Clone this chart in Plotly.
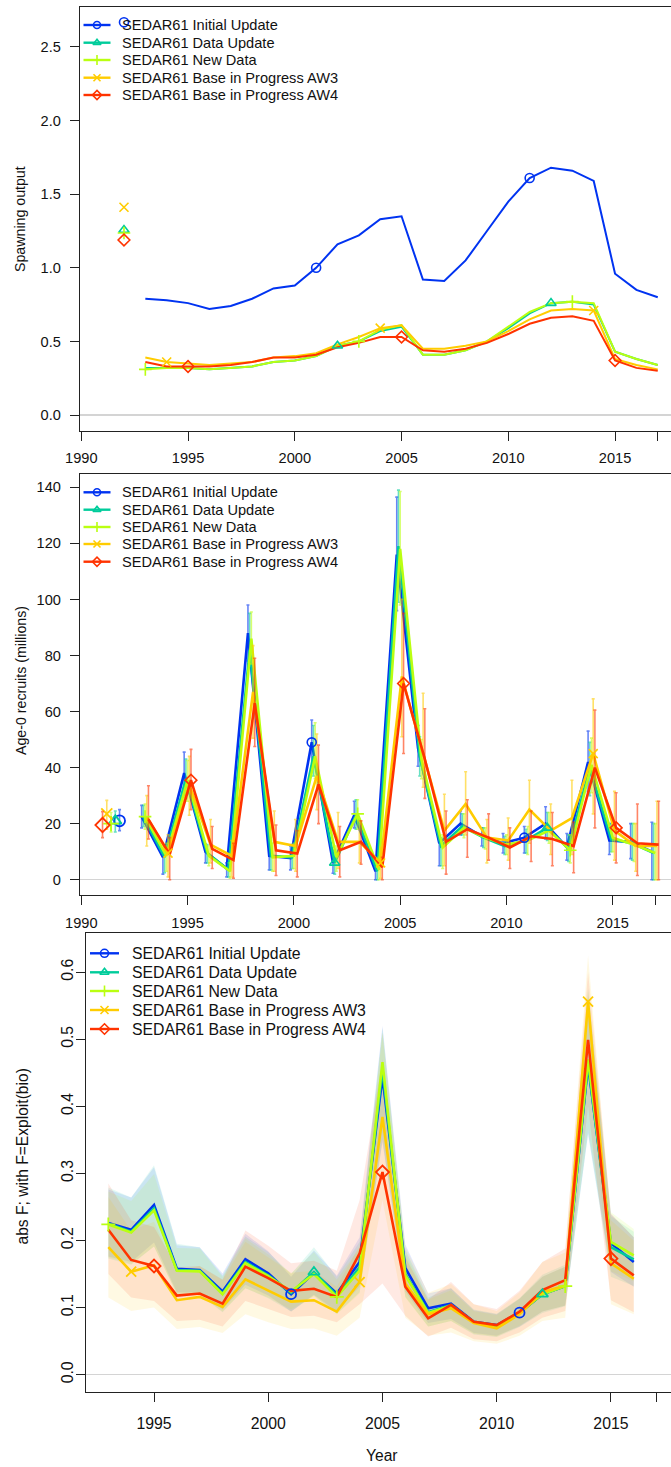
import plotly.graph_objects as go

W, H = 671, 1467
FONT = "Liberation Sans, Arial, sans-serif"

# ---------------- data ----------------
names = ["SEDAR61 Initial Update", "SEDAR61 Data Update", "SEDAR61 New Data",
         "SEDAR61 Base in Progress AW3", "SEDAR61 Base in Progress AW4"]
colors_rgb = [(0, 51, 241), (0, 204, 155), (186, 255, 17), (255, 204, 0), (255, 51, 0)]
symbols = ["circle-open", "triangle-up-open", "cross-thin-open", "x-thin-open", "diamond-open"]

years = list(range(1993, 2018))      # spawning output & recruitment
years_f = list(range(1993, 2017))    # fishing mortality

# Panel 1: spawning output
sp_virgin_year = 1992
sp_virgin = [2.668, 1.257, 1.236, 1.411, 1.189]
sp = [
    [0.79, 0.78, 0.76, 0.72, 0.74, 0.79, 0.86, 0.88, 1.00, 1.16, 1.22, 1.33, 1.35, 0.92, 0.91, 1.05, 1.25, 1.45, 1.61, 1.68, 1.66, 1.59, 0.96, 0.85, 0.80],
    [0.32, 0.32, 0.32, 0.31, 0.32, 0.33, 0.36, 0.37, 0.40, 0.47, 0.50, 0.57, 0.60, 0.41, 0.41, 0.44, 0.50, 0.59, 0.69, 0.76, 0.77, 0.75, 0.43, 0.38, 0.34],
    [0.31, 0.32, 0.32, 0.31, 0.32, 0.33, 0.36, 0.37, 0.40, 0.47, 0.50, 0.58, 0.61, 0.41, 0.41, 0.44, 0.50, 0.60, 0.70, 0.76, 0.77, 0.76, 0.43, 0.38, 0.34],
    [0.39, 0.36, 0.35, 0.34, 0.35, 0.36, 0.39, 0.40, 0.42, 0.48, 0.53, 0.59, 0.61, 0.45, 0.45, 0.47, 0.50, 0.57, 0.65, 0.71, 0.72, 0.71, 0.38, 0.34, 0.31],
    [0.36, 0.33, 0.33, 0.33, 0.34, 0.36, 0.39, 0.39, 0.41, 0.46, 0.49, 0.53, 0.53, 0.44, 0.43, 0.45, 0.49, 0.55, 0.62, 0.66, 0.67, 0.64, 0.37, 0.32, 0.30],
]

# Panel 2: age-0 recruits (millions) with intervals
rec_virgin_x = [1991.8, 1991.6, 1991.4, 1991.2, 1991.0]
rec_virgin = [21.0, 21.0, 20.0, 23.5, 19.5]
rec_virgin_lo = [17.5, 17.0, 17.0, 18.0, 15.0]
rec_virgin_hi = [25.0, 24.5, 24.0, 28.3, 24.3]
rec_shift = [-0.16, -0.08, 0.0, 0.08, 0.16]
rec = [
    [22.5, 8, 38, 10, 4, 88, 8.5, 7.7, 49, 6, 23, 3, 116, 47, 13, 20, 15.5, 13, 15, 20, 11.5, 42, 14, 13.5, 10],
    [22.5, 8, 36, 9.5, 3.5, 82, 8.5, 8, 44, 6, 23, 3, 119, 44, 12, 19, 15, 12, 14, 18.5, 11, 40, 14.5, 13, 9.5],
    [22.5, 8.5, 35.5, 8.5, 3, 86, 8, 8.5, 44, 8, 23.5, 3.5, 118, 43, 11.5, 18.5, 15, 12.5, 14, 17.5, 10.5, 41, 15, 12.5, 9.5],
    [22.5, 9.5, 34, 12.5, 8.5, 67, 13.5, 12, 37, 13.5, 13.5, 6, 72.5, 45, 17.5, 27, 15, 14, 25, 17.5, 22, 45, 17.5, 12, 12],
    [21.5, 9, 35.5, 11, 7, 63, 10.5, 9.3, 34, 10.5, 13.5, 4.5, 70, 43, 13.5, 18, 15, 11.5, 15.5, 14.5, 12, 40, 18.5, 13, 12.5],
]
rec_lo = [
    [18.5, 2, 30, 6, 1, 78, 3.5, 3.5, 40.5, 2.3, 18.5, 0, 96, 40.5, 5, 16, 12, 9.5, 9.5, 14.5, 7, 31.5, 9, 7.5, 0],
    [19, 2.5, 29, 6, 1, 77, 3.5, 4, 37, 2, 18, 0, 99, 37, 5, 16, 11.5, 9, 9.5, 14, 6.5, 30, 10, 7, 0],
    [18, 3, 28, 5, 0.5, 77, 3, 4, 36, 3, 18, 0, 98, 36, 4, 15, 11, 9, 9, 13, 6, 31, 10, 6.5, 0],
    [12, 1, 23, 6, 1, 50.5, 3, 3, 25, 4, 6, 0.5, 51, 33, 5, 16, 6, 7, 13, 9, 9, 23.5, 7, 3, 0],
    [14.5, 0, 25, 4, 0.5, 47.5, 1.5, 1, 20, 1, 5.5, 0, 45, 29, 2, 8, 7, 4, 6.5, 5, 2.5, 18.5, 6, 1.5, 0],
]
rec_hi = [
    [26.5, 9.5, 45.5, 12.7, 6, 98, 13.5, 12, 57, 10.5, 28, 7, 136.5, 55, 15, 24.5, 18.5, 16.5, 19, 26, 16.5, 53, 20, 20, 20.5],
    [26.5, 12, 43, 12.5, 6, 95, 13, 12.5, 55, 10.5, 28.5, 7, 139, 51, 15, 23.5, 18.5, 15.5, 18, 24, 16, 49, 20, 20, 20],
    [27, 13, 42.5, 12, 6, 95.5, 13, 13, 56, 12, 28.5, 8, 138.5, 50, 16, 23.5, 18.5, 16, 19, 24, 16, 50.5, 21, 20, 20],
    [30, 16, 44, 21.5, 14, 83.5, 24.5, 21.5, 52, 24, 21, 11.5, 100, 66.5, 30.5, 38.5, 21.5, 22, 35.5, 27, 35.5, 64.5, 31.5, 20, 28],
    [33.5, 15, 46.5, 19, 13, 79, 19.5, 17.5, 48, 19, 21, 8, 95, 61, 24.5, 28.5, 23.5, 18.5, 24.5, 24, 20.5, 60.5, 31, 27, 28],
]

# Panel 3: abs F with intervals
fm = [
    [0.226, 0.216, 0.253, 0.158, 0.156, 0.124, 0.172, 0.151, 0.120, 0.152, 0.121, 0.168, 0.444, 0.159, 0.099, 0.106, 0.079, 0.074, 0.0925, 0.120, 0.132, 0.462, 0.196, 0.168],
    [0.225, 0.213, 0.248, 0.156, 0.155, 0.121, 0.168, 0.148, 0.122, 0.153, 0.118, 0.160, 0.455, 0.150, 0.093, 0.104, 0.078, 0.073, 0.092, 0.120, 0.132, 0.465, 0.190, 0.172],
    [0.224, 0.212, 0.245, 0.155, 0.154, 0.120, 0.166, 0.147, 0.124, 0.150, 0.116, 0.155, 0.466, 0.148, 0.092, 0.103, 0.078, 0.073, 0.093, 0.120, 0.132, 0.470, 0.198, 0.178],
    [0.190, 0.1535, 0.163, 0.111, 0.116, 0.101, 0.142, 0.125, 0.109, 0.111, 0.094, 0.138, 0.384, 0.136, 0.090, 0.099, 0.077, 0.069, 0.090, 0.123, 0.133, 0.556, 0.166, 0.143],
    [0.216, 0.171, 0.162, 0.118, 0.121, 0.106, 0.161, 0.144, 0.125, 0.128, 0.116, 0.181, 0.302, 0.131, 0.084, 0.104, 0.079, 0.074, 0.094, 0.126, 0.141, 0.499, 0.173, 0.148],
]
fm_lo = [
    [0.176, 0.168, 0.197, 0.123, 0.122, 0.097, 0.134, 0.118, 0.094, 0.119, 0.094, 0.131, 0.346, 0.124, 0.077, 0.083, 0.062, 0.058, 0.072, 0.094, 0.103, 0.360, 0.153, 0.131],
    [0.173, 0.164, 0.191, 0.120, 0.119, 0.093, 0.129, 0.114, 0.094, 0.118, 0.091, 0.123, 0.350, 0.116, 0.072, 0.080, 0.060, 0.056, 0.071, 0.092, 0.102, 0.358, 0.146, 0.132],
    [0.175, 0.165, 0.191, 0.121, 0.120, 0.094, 0.129, 0.115, 0.097, 0.117, 0.090, 0.121, 0.363, 0.115, 0.072, 0.080, 0.061, 0.057, 0.073, 0.094, 0.103, 0.367, 0.154, 0.139],
    [0.115, 0.095, 0.100, 0.068, 0.071, 0.062, 0.090, 0.078, 0.068, 0.069, 0.058, 0.085, 0.260, 0.085, 0.058, 0.063, 0.050, 0.046, 0.058, 0.080, 0.085, 0.490, 0.105, 0.090],
    [0.150, 0.115, 0.110, 0.080, 0.082, 0.072, 0.110, 0.098, 0.086, 0.088, 0.078, 0.105, 0.136, 0.088, 0.057, 0.070, 0.053, 0.050, 0.063, 0.085, 0.095, 0.400, 0.111, 0.093],
]
fm_hi = [
    [0.276, 0.264, 0.309, 0.193, 0.190, 0.151, 0.210, 0.184, 0.146, 0.185, 0.148, 0.205, 0.520, 0.194, 0.121, 0.129, 0.096, 0.090, 0.113, 0.146, 0.161, 0.564, 0.239, 0.205],
    [0.279, 0.264, 0.312, 0.195, 0.190, 0.148, 0.206, 0.183, 0.150, 0.190, 0.146, 0.198, 0.517, 0.186, 0.115, 0.129, 0.097, 0.091, 0.114, 0.149, 0.164, 0.576, 0.236, 0.213],
    [0.273, 0.259, 0.299, 0.189, 0.188, 0.146, 0.203, 0.179, 0.151, 0.183, 0.142, 0.189, 0.510, 0.181, 0.112, 0.126, 0.095, 0.089, 0.113, 0.146, 0.161, 0.573, 0.242, 0.217],
    [0.265, 0.215, 0.228, 0.155, 0.162, 0.141, 0.198, 0.175, 0.152, 0.155, 0.131, 0.193, 0.510, 0.190, 0.122, 0.135, 0.105, 0.095, 0.123, 0.168, 0.182, 0.625, 0.230, 0.200],
    [0.285, 0.230, 0.220, 0.160, 0.162, 0.142, 0.215, 0.192, 0.166, 0.170, 0.155, 0.260, 0.470, 0.175, 0.112, 0.138, 0.105, 0.098, 0.125, 0.168, 0.188, 0.600, 0.240, 0.205],
]

# tick labels
x_ticks_top = [1990, 1995, 2000, 2005, 2010, 2015, 2017]
x_ticktext_top = ["1990", "1995", "2000", "2005", "2010", "2015", ""]
x_ticks_bot = [1995, 2000, 2005, 2010, 2015, 2017]
x_ticktext_bot = ["1995", "2000", "2005", "2010", "2015", ""]
y1_ticks = [0.0, 0.5, 1.0, 1.5, 2.0, 2.5]
y2_ticks = [0, 20, 40, 60, 80, 100, 120, 140]
y3_ticks = [0.0, 0.1, 0.2, 0.3, 0.4, 0.5, 0.6]


def rgba(i, a):
    r, g, b = colors_rgb[i]
    return f"rgba({r},{g},{b},{a})"


def marker_pick(i, xs, ys):
    px, py = [], []
    for x, y in zip(xs, ys):
        yr = round(x)
        if (yr - 1991 - i) % 10 == 0:
            px.append(x)
            py.append(y)
    return px, py


fig = go.Figure()

# ---------------- panel 1 ----------------
for i in range(5):
    fig.add_trace(go.Scatter(x=years, y=sp[i], mode="lines", xaxis="x", yaxis="y",
                             line=dict(color=rgba(i, 1), width=2), showlegend=False))
for i in range(5):
    mx, my = marker_pick(i, years, sp[i])
    fig.add_trace(go.Scatter(x=[sp_virgin_year] + mx, y=[sp_virgin[i]] + my, mode="markers",
                             xaxis="x", yaxis="y",
                             marker=dict(symbol=symbols[i], size=9, color=rgba(i, 1),
                                         line=dict(width=1.6, color=rgba(i, 1))),
                             showlegend=False))

# ---------------- panel 2 ----------------
for i in range(5):
    xs = [y + rec_shift[i] for y in years]
    plus = [h - v for h, v in zip(rec_hi[i], rec[i])]
    minus = [v - l for v, l in zip(rec[i], rec_lo[i])]
    fig.add_trace(go.Scatter(x=xs, y=rec[i], mode="lines", xaxis="x2", yaxis="y2",
                             line=dict(color=rgba(i, 1), width=2.6),
                             error_y=dict(type="data", array=plus, arrayminus=minus,
                                          color=rgba(i, 0.6), thickness=1.6, width=1.5),
                             showlegend=False))
for i in range(5):
    xs = [y + rec_shift[i] for y in years]
    mx, my = marker_pick(i, xs, rec[i])
    fig.add_trace(go.Scatter(x=mx, y=my, mode="markers", xaxis="x2", yaxis="y2",
                             marker=dict(symbol=symbols[i], size=9, color=rgba(i, 1),
                                         line=dict(width=1.6, color=rgba(i, 1))),
                             showlegend=False))
    fig.add_trace(go.Scatter(x=[rec_virgin_x[i]], y=[rec_virgin[i]], mode="markers",
                             xaxis="x2", yaxis="y2",
                             marker=dict(symbol=symbols[i], size=11, color=rgba(i, 1),
                                         line=dict(width=1.8, color=rgba(i, 1))),
                             error_y=dict(type="data", array=[rec_virgin_hi[i] - rec_virgin[i]],
                                          arrayminus=[rec_virgin[i] - rec_virgin_lo[i]],
                                          color=rgba(i, 0.6), thickness=1.6, width=1.5),
                             showlegend=False))

# ---------------- panel 3 ----------------
for i in range(5):
    fig.add_trace(go.Scatter(x=years_f + years_f[::-1], y=fm_hi[i] + fm_lo[i][::-1],
                             mode="lines", fill="toself", fillcolor=rgba(i, 0.11),
                             line=dict(width=0, color=rgba(i, 0)), xaxis="x3", yaxis="y3",
                             hoverinfo="skip", showlegend=False))
for i in range(5):
    fig.add_trace(go.Scatter(x=years_f, y=fm[i], mode="lines", xaxis="x3", yaxis="y3",
                             line=dict(color=rgba(i, 1), width=2.6), showlegend=False))
for i in range(5):
    mx, my = marker_pick(i, years_f, fm[i])
    fig.add_trace(go.Scatter(x=mx, y=my, mode="markers", xaxis="x3", yaxis="y3",
                             marker=dict(symbol=symbols[i], size=10, color=rgba(i, 1),
                                         line=dict(width=1.8, color=rgba(i, 1))),
                             showlegend=False))

# ---------------- legends (drawn in pixel space) ----------------
legend_specs = [
    dict(rows=[25, 42.7, 60, 77.7, 95], x0=83.5, x1=110.5, xm=97, xt=120, fs=14.6, ms=7),
    dict(rows=[492.3, 509.7, 527, 544, 561.7], x0=83.5, x1=110.5, xm=97, xt=120, fs=14.6, ms=7),
    dict(rows=[953.3, 972.3, 991, 1010, 1029], x0=90, x1=119, xm=104.5, xt=130, fs=15.8, ms=8),
]
annotations = []
for spec in legend_specs:
    for i in range(5):
        ry = spec["rows"][i]
        fig.add_trace(go.Scatter(x=[spec["x0"], spec["x1"]], y=[ry, ry], mode="lines",
                                 xaxis="x4", yaxis="y4", line=dict(color=rgba(i, 1), width=2.4),
                                 showlegend=False, hoverinfo="skip"))
        fig.add_trace(go.Scatter(x=[spec["xm"]], y=[ry], mode="markers", xaxis="x4", yaxis="y4",
                                 marker=dict(symbol=symbols[i], size=spec["ms"], color=rgba(i, 1),
                                             line=dict(width=1.6, color=rgba(i, 1))),
                                 showlegend=False, hoverinfo="skip"))
        annotations.append(dict(x=spec["xt"], y=ry, xref="x4", yref="y4", text=names[i],
                                showarrow=False, xanchor="left", yanchor="middle",
                                font=dict(family=FONT, size=spec["fs"], color="#111111")))

# axis titles
annotations += [
    dict(x=20, y=219, xref="x4", yref="y4", text="Spawning output", textangle=-90,
         showarrow=False, font=dict(family=FONT, size=14.2, color="#111111")),
    dict(x=21, y=681, xref="x4", yref="y4", text="Age-0 recruits (millions)", textangle=-90,
         showarrow=False, font=dict(family=FONT, size=14.2, color="#111111")),
    dict(x=21.5, y=1157, xref="x4", yref="y4", text="abs F; with F=Exploit(bio)", textangle=-90,
         showarrow=False, font=dict(family=FONT, size=15.6, color="#111111")),
    dict(x=382, y=1455, xref="x4", yref="y4", text="Year",
         showarrow=False, font=dict(family=FONT, size=15.6, color="#111111")),
]


def ydom(top_px, bot_px):
    return [1 - bot_px / H, 1 - top_px / H]


axis_common = dict(showgrid=False, ticks="outside", ticklen=9, tickwidth=1, tickcolor="#222222",
                   showline=True, linecolor="#222222", linewidth=1.2, automargin=False)
tf = dict(family=FONT, size=14.6, color="#111111")
tf3 = dict(family=FONT, size=15.8, color="#111111")

fig.update_layout(
    width=W, height=H, margin=dict(l=0, r=0, t=0, b=0, pad=0, autoexpand=False),
    paper_bgcolor="white", plot_bgcolor="rgba(0,0,0,0)", showlegend=False,
    xaxis=dict(domain=[80 / W, 1], range=[1989.94, 2017.62], anchor="y", tickvals=x_ticks_top,
               ticktext=x_ticktext_top, mirror=True, zeroline=False, tickfont=tf,
               ticklabelstandoff=4, **axis_common),
    yaxis=dict(domain=ydom(7, 431), range=[-0.1087, 2.7717], anchor="x", tickvals=y1_ticks,
               ticktext=["0.0", "0.5", "1.0", "1.5", "2.0", "2.5"], zeroline=True,
               zerolinecolor="#d4d4d4", zerolinewidth=1.2, tickfont=tf, ticklabelstandoff=6,
               **axis_common),
    xaxis2=dict(domain=[80 / W, 1], range=[1989.94, 2017.74], anchor="y2", tickvals=x_ticks_top,
                ticktext=x_ticktext_top, mirror=True, zeroline=False, tickfont=tf,
                ticklabelstandoff=5, **axis_common),
    yaxis2=dict(domain=ydom(474, 895), range=[-5.46, 144.74], anchor="x2", tickvals=y2_ticks,
                zeroline=True, zerolinecolor="#d4d4d4", zerolinewidth=1.2, tickfont=tf,
                ticklabelstandoff=6, **axis_common),
    xaxis3=dict(domain=[86.4 / W, 1], range=[1992.04, 2017.63], anchor="y3", tickvals=x_ticks_bot,
                ticktext=x_ticktext_bot, mirror=True, zeroline=False, tickfont=tf3,
                ticklabelstandoff=8, **axis_common),
    yaxis3=dict(domain=ydom(933, 1392), range=[-0.0258, 0.6583], anchor="x3", tickvals=y3_ticks,
                ticktext=["0.0", "0.1", "0.2", "0.3", "0.4", "0.5", "0.6"], tickangle=-90,
                zeroline=True, zerolinecolor="#d4d4d4", zerolinewidth=1.2, tickfont=tf3,
                ticklabelstandoff=-3, **axis_common),
    xaxis4=dict(domain=[0, 1], range=[0, W], anchor="y4", visible=False, fixedrange=True,
                automargin=False),
    yaxis4=dict(domain=[0, 1], range=[H, 0], anchor="x4", visible=False, fixedrange=True,
                automargin=False),
    annotations=annotations,
)

fig.write_html("out.html", config={"displayModeBar": False, "staticPlot": True},
               post_script="document.body.style.margin='0px';document.body.style.overflow='hidden';")
